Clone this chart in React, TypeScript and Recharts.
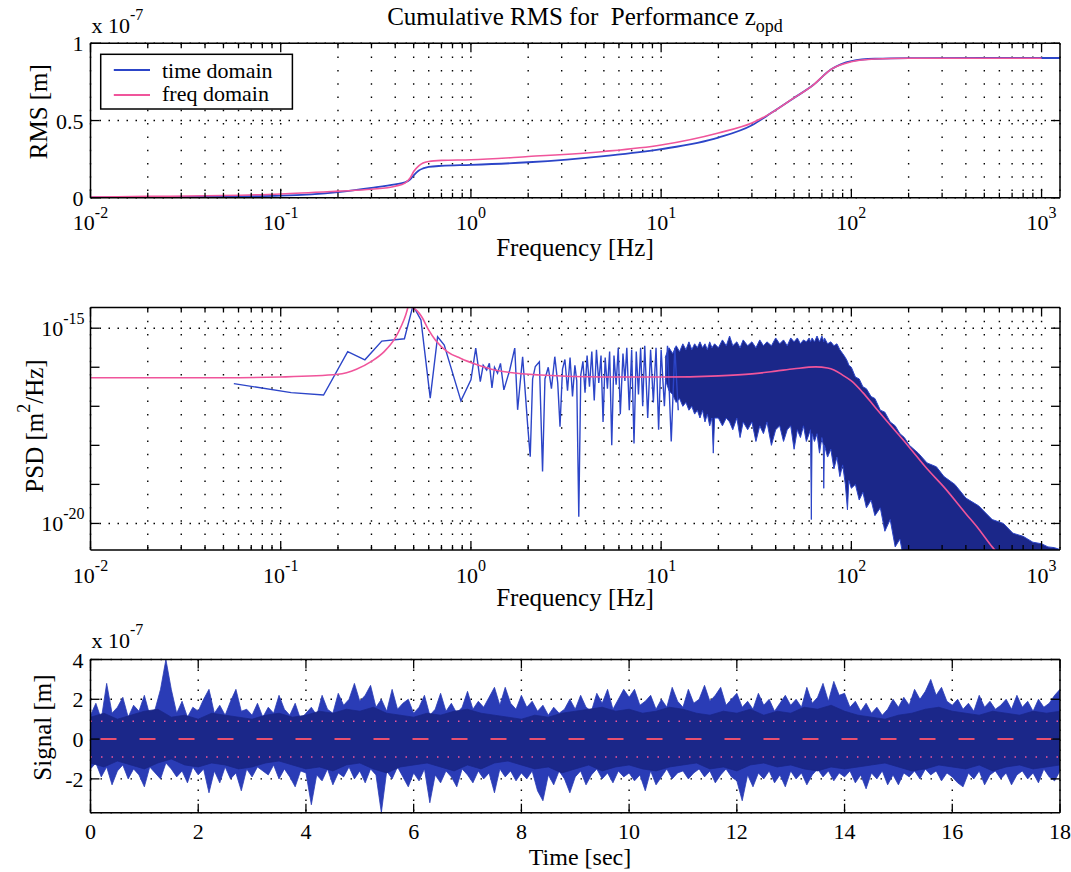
import {
  Area,
  CartesianGrid,
  ComposedChart,
  Line,
  XAxis,
  YAxis,
} from "recharts";

const FONT = "'Liberation Serif', 'Times New Roman', serif";
const BLUE = "#2c45c8";
const NAVY = "#1b2789";
const PINK = "#f0559b";
const W = 1071;
const PLOT_L = 90.5;
const PLOT_R = 1060;
const TM = 10; // tick margin, used to find the axis line inside custom ticks

// ---------- cumulative RMS (x 1e-7 m) ----------
const rmsFreq = [
  0.01, 0.02, 0.05, 0.1, 0.2, 0.3, 0.4, 0.45, 0.48, 0.5,
  0.53, 0.56, 0.6, 0.7, 1, 2, 5, 10, 20, 30,
  38, 49, 63, 78, 100, 133, 200, 500, 1000, 1250,
];
const rmsTimeDomain = [
  0.002, 0.004, 0.008, 0.014, 0.037, 0.064, 0.087, 0.1, 0.12, 0.145,
  0.175, 0.19, 0.2, 0.207, 0.213, 0.23, 0.27, 0.315, 0.39, 0.47,
  0.55, 0.64, 0.73, 0.83, 0.885, 0.9, 0.904, 0.905, 0.905, 0.905,
];
const rmsFreqDomain = [
  0.005, 0.009, 0.015, 0.025, 0.043, 0.055, 0.075, 0.095, 0.13, 0.17,
  0.205, 0.225, 0.235, 0.242, 0.246, 0.267, 0.3, 0.342, 0.42, 0.484,
  0.55, 0.64, 0.73, 0.83, 0.88, 0.898, 0.903, 0.903, 0.903, null,
];

// ---------- PSD, values are log10 of m^2/Hz ----------
const psdModelFreq = [
  0.01, 0.05, 0.1, 0.2, 0.25, 0.3, 0.35, 0.4, 0.43, 0.455,
  0.47, 0.48, 0.49, 0.52, 0.55, 0.6, 0.65, 0.75, 0.88, 1.1,
  1.33, 2.33, 5, 10, 20, 30, 40, 50, 65, 75,
  81, 90, 100, 115, 133, 150, 201, 250, 307, 400,
  467, 550, 650,
];
const psdModelExp = [
  -16.27, -16.27, -16.25, -16.18, -16.05, -15.85, -15.6, -15.25, -14.95, -14.65,
  -14.4, -14.2, -14.45, -14.55, -14.7, -15.05, -15.3, -15.6, -15.77, -15.95,
  -16.07, -16.2, -16.25, -16.25, -16.22, -16.17, -16.1, -16.04, -15.99, -16.02,
  -16.07, -16.2, -16.35, -16.65, -17.02, -17.32, -18.04, -18.6, -19.07, -19.75,
  -20.14, -20.6, -21.0,
];

const psdTimeFreq = [
  0.0567, 0.1135, 0.168, 0.225, 0.277, 0.34, 0.447, 0.496, 0.546, 0.611,
  0.668, 0.724, 0.886, 1.0, 1.06, 1.12, 1.16, 1.21, 1.25, 1.29,
  1.33, 1.38, 1.43, 1.49, 1.6, 1.7, 1.76, 1.87, 1.99, 2.05,
  2.11, 2.18, 2.29, 2.38, 2.45, 2.55, 2.65, 2.76, 2.86, 2.94,
  3.03, 3.12, 3.22, 3.32, 3.42, 3.52, 3.6, 3.69, 3.78, 3.88,
  3.98, 4.08, 4.2, 4.32, 4.45, 4.57, 4.7, 4.83, 4.95, 5.08,
  5.22, 5.36, 5.5, 5.65, 5.8, 5.95, 6.1, 6.3, 6.45, 6.6,
  6.8, 7.0, 7.2, 7.4, 7.6, 7.8, 8.0, 8.2, 8.5, 8.8,
  9.1, 9.4, 9.7, 10.0, 10.4, 10.8, 11.3, 11.8, 12.3,
];
const psdTimeExp = [
  -16.42, -16.65, -16.71, -15.6, -15.81, -15.33, -15.27, -14.42, -14.79, -16.79,
  -15.22, -15.43, -16.86, -16.32, -15.51, -16.37, -15.95, -16.07, -15.9, -16.53,
  -16.0, -16.15, -15.9, -16.58, -16.07, -15.51, -17.09, -15.73, -17.52, -18.29,
  -16.3, -15.98, -15.86, -18.67, -16.3, -16.0, -16.55, -15.73, -16.4, -17.52,
  -16.05, -15.8, -16.6, -15.75, -16.75, -15.95, -16.35, -19.83, -16.2, -15.85,
  -16.65, -15.7, -16.5, -15.6, -16.85, -15.55, -16.4, -15.7, -17.4, -15.75,
  -16.55, -15.6, -18.0, -15.7, -16.45, -15.5, -17.2, -15.65, -16.35, -15.5,
  -17.1, -15.55, -17.95, -15.6, -16.7, -15.5, -17.0, -15.45, -17.3, -15.55,
  -16.9, -15.5, -17.6, -15.55, -17.0, -15.45, -17.9, -15.5, -17.1,
];

// dense part of the time-domain PSD: upper and lower edge of the blue band
const psdBandFreq = [
  10.5, 11, 11.5, 12, 12.5, 13, 13.5, 14, 14.5, 15,
  15.5, 16, 16.5, 17, 17.5, 18, 18.5, 18.8, 19.1, 20,
  21, 22, 22.9, 23.8, 25, 26, 27, 28.5, 30, 31.5,
  33, 34.5, 36, 38, 40, 42, 44, 46, 48, 50,
  52, 54, 56, 58, 60, 61, 61.6, 62.2, 64, 66,
  68, 70, 71.2, 71.6, 72.2, 75, 78, 81, 84, 87,
  90, 93, 95.4, 97, 100, 105, 110, 115, 120, 127,
  133, 142, 150, 160, 170, 180, 190, 202, 225, 250,
  280, 307, 350, 400, 467, 550, 630, 707, 800, 900,
  1000, 1080, 1170, 1250,
];
const psdBandHiExp = [
  -15.75, -15.5, -15.65, -15.45, -15.6, -15.4, -15.55, -15.35, -15.55, -15.4,
  -15.5, -15.35, -15.5, -15.4, -15.55, -15.35, -15.5, -15.45, -15.4, -15.5,
  -15.3, -15.45, -15.2, -15.45, -15.35, -15.5, -15.3, -15.45, -15.35, -15.5,
  -15.3, -15.45, -15.35, -15.45, -15.25, -15.4, -15.3, -15.45, -15.25, -15.35,
  -15.25, -15.4, -15.3, -15.35, -15.25, -15.35, -15.3, -15.25, -15.35, -15.2,
  -15.35, -15.2, -15.3, -15.35, -15.25, -15.4, -15.35, -15.45, -15.4, -15.55,
  -15.65, -15.75, -15.85, -15.95, -16.0, -16.25, -16.3, -16.5, -16.55, -16.75,
  -16.8, -17.1, -17.15, -17.4, -17.5, -17.7, -17.8, -18.0, -18.2, -18.45,
  -18.55, -18.8, -19.0, -19.35, -19.55, -19.9, -20.0, -20.25, -20.33, -20.48,
  -20.52, -20.6, -20.62, -20.67,
];
const psdBandLoExp = [
  -16.3, -16.6, -16.7, -16.9, -16.8, -17.0, -16.9, -17.1, -17.0, -17.2,
  -17.1, -17.3, -17.1, -17.4, -17.2, -17.5, -17.3, -18.2, -17.3, -17.3,
  -17.5, -17.3, -17.4, -17.6, -17.3, -17.8, -17.4, -17.6, -17.4, -17.9,
  -17.5, -17.7, -17.4, -18.0, -17.6, -17.5, -17.9, -17.6, -17.5, -18.1,
  -17.6, -17.8, -17.5, -17.9, -17.7, -17.6, -19.9, -17.7, -17.9, -17.7,
  -18.2, -17.8, -18.0, -19.1, -18.0, -18.3, -18.1, -18.6, -18.3, -18.8,
  -18.5, -19.0, -19.65, -18.9, -19.1, -19.0, -19.4, -19.2, -19.6, -19.4,
  -19.8, -19.6, -20.2, -19.9, -20.6, -20.4, -21, -21, -21, -21,
  -21, -21, -21, -21, -21, -21, -21, -21, -21, -21,
  -21, -21, -21, -21,
];

// ---------- time signal (x 1e-7 m), envelope sampled every 0.1 s ----------
const SIGNAL_DT = 0.1;
const signalHi = [
  1.2, 1.8, 1.0, 2.8, 1.3, 1.6, 2.1, 1.1, 1.7, 1.4,
  2.2, 1.2, 1.5, 2.5, 4.0, 2.5, 1.3, 1.9, 1.1, 1.6,
  1.4, 2.0, 2.5, 1.3, 1.7, 1.2, 1.9, 2.5, 1.4, 1.5,
  1.2, 1.8, 1.1, 1.6, 1.3, 2.2, 1.5, 1.2, 1.8, 1.0,
  1.3, 1.6, 1.2, 2.2, 1.5, 1.3, 2.3, 1.7, 2.0, 2.8,
  1.9, 2.2, 2.7, 1.6, 2.0, 1.4, 2.5, 1.5, 1.8, 2.0,
  1.3, 1.6, 2.2, 1.2, 1.5, 2.3, 1.4, 1.8, 1.3, 1.6,
  2.4, 1.5, 1.9, 1.6, 2.1, 2.6, 1.7, 2.6, 1.8, 1.5,
  2.2, 1.6, 1.9, 1.4, 1.7, 1.2, 1.6, 1.3, 1.5, 2.0,
  1.5, 2.2, 1.6, 1.4, 2.3, 1.8, 2.5, 1.5, 2.0, 2.5,
  2.1, 2.5, 1.7, 1.9, 2.2, 1.5, 2.0, 1.6, 2.6, 1.9,
  1.6, 2.5, 1.8, 2.0, 2.7, 1.9, 2.2, 2.6, 1.7, 2.0,
  2.3, 1.6, 1.9, 1.5, 2.3, 1.7, 2.0, 1.4, 1.8, 2.2,
  1.7, 2.0, 1.6, 2.6, 1.8, 2.1, 2.8, 1.9, 2.9, 2.2,
  2.3, 1.6, 1.9, 1.4, 1.8, 1.3, 1.6, 1.2, 1.5, 2.0,
  1.6, 2.1, 1.7, 2.5, 2.0, 2.4, 3.0, 2.2, 2.6, 1.9,
  1.7, 2.0, 1.5, 1.8, 1.4, 2.2, 1.6, 1.9, 1.5, 1.7,
  2.0, 1.5, 2.2, 1.6, 1.9, 1.4, 2.0, 1.6, 1.8, 2.2,
  2.5,
];
const signalLo = [
  -1.5, -1.2, -1.9, -1.4, -2.3, -1.6, -1.3, -2.0, -1.5, -1.8,
  -2.4, -1.4, -1.7, -2.0, -1.2, -1.5, -1.9, -1.6, -2.2, -1.4,
  -1.8, -1.5, -2.7, -1.6, -2.2, -1.4, -2.0, -1.7, -2.6, -1.5,
  -1.9, -1.4, -1.6, -1.8, -1.3, -2.0, -1.5, -1.9, -2.4, -1.6,
  -1.7, -3.3, -1.8, -2.1, -1.5, -2.3, -1.7, -1.9, -1.4, -2.0,
  -1.6, -2.2, -1.5, -1.8, -3.7, -1.6, -2.0, -1.4, -1.9, -2.4,
  -1.7, -2.1, -1.5, -3.2, -1.8, -2.2, -1.6, -1.9, -2.4, -1.5,
  -1.8, -2.2, -1.6, -2.0, -1.7, -2.7, -1.5, -1.9, -1.6, -2.1,
  -1.7, -2.0, -1.6, -2.6, -3.1, -1.8, -2.3, -1.6, -2.0, -2.7,
  -1.9, -1.6, -2.3, -1.8, -1.5, -2.0, -1.7, -2.2, -1.6, -1.9,
  -1.7, -2.1, -1.8, -2.6, -1.6, -2.3, -1.9, -1.5, -2.0, -1.7,
  -1.6, -2.0, -1.7, -1.5, -1.9, -1.6, -2.2, -1.8, -1.5, -1.9,
  -2.1, -3.1, -1.8, -2.4, -1.7, -2.0, -1.6, -2.2, -1.8, -2.4,
  -1.6, -2.0, -1.7, -2.3, -1.8, -1.5, -1.9, -1.6, -2.1, -1.7,
  -1.9, -1.6, -2.2, -1.8, -2.5, -1.7, -2.0, -1.6, -2.3, -1.8,
  -2.3, -1.7, -1.9, -1.6, -2.0, -1.5, -1.8, -1.6, -2.1, -1.7,
  -1.9, -2.2, -2.4, -1.7, -2.0, -1.6, -2.3, -1.8, -1.6, -2.0,
  -1.7, -2.3, -1.8, -1.6, -2.0, -1.7, -2.2, -1.5, -1.9, -2.1,
  -1.6,
];
// dense core of the trace, every 0.25 s
const CORE_DT = 0.25;
const signalCoreHi = [
  1.1, 1.3, 1.0, 1.2, 1.4, 1.5, 1.1, 1.2, 1.0, 1.3, 1.2, 1.1, 1.0, 1.2, 1.3, 1.1,
  1.2, 1.4, 1.3, 1.5, 1.4, 1.6, 1.3, 1.2, 1.1, 1.3, 1.2, 1.4, 1.5, 1.3, 1.2, 1.1,
  1.0, 1.2, 1.1, 1.3, 1.4, 1.5, 1.6, 1.4, 1.5, 1.3, 1.4, 1.6, 1.5, 1.3, 1.2, 1.4,
  1.3, 1.5, 1.2, 1.4, 1.3, 1.6, 1.5, 1.7, 1.4, 1.2, 1.1, 1.0, 1.2, 1.3, 1.5, 1.6,
  1.4, 1.3, 1.2, 1.4, 1.3, 1.2, 1.4, 1.3, 1.4,
];
const signalCoreLo = [
  -1.2, -1.4, -1.1, -1.3, -1.5, -1.2, -1.0, -1.3, -1.4, -1.2, -1.3, -1.5, -1.4, -1.2, -1.1, -1.3,
  -1.5, -1.4, -1.6, -1.3, -1.2, -1.5, -1.7, -1.4, -1.3, -1.2, -1.4, -1.6, -1.3, -1.5, -1.2, -1.1,
  -1.3, -1.5, -1.4, -1.7, -1.5, -1.3, -1.6, -1.4, -1.3, -1.5, -1.6, -1.4, -1.3, -1.2, -1.5, -1.4,
  -1.6, -1.3, -1.2, -1.4, -1.3, -1.5, -1.6, -1.4, -1.5, -1.4, -1.3, -1.2, -1.4, -1.6, -1.5, -1.3,
  -1.4, -1.5, -1.3, -1.6, -1.4, -1.3, -1.5, -1.4, -1.3,
];
const signalMeanT = [0, 18];
const signalMean = [0, 0];
const signalRms = 0.9;

// ---------- axes ----------
const FREQ_DOMAIN: [number, number] = [0.01, 1250];
const freqDecades = [-2, -1, 0, 1, 2, 3];
const freqTicks: number[] = [];
freqDecades.forEach((d) => {
  for (let m = 1; m <= 9; m++) {
    const v = Number((m * Math.pow(10, d)).toPrecision(4));
    if (v <= FREQ_DOMAIN[1]) freqTicks.push(v);
  }
});
const psdDecades = [-20, -19, -18, -17, -16, -15];
const psdTicks = psdDecades.map((e) => Math.pow(10, e));
const psdLabeled = [-20, -15];
const PSD_DOMAIN: [number, number] = [Math.pow(10, -20.68), Math.pow(10, -14.47)];
const timeTicks = [0, 2, 4, 6, 8, 10, 12, 14, 16, 18];
const signalTicks = [-2, 0, 2, 4];

const isDecade = (v: number) => {
  const e = Math.log10(v);
  return Math.abs(e - Math.round(e)) < 1e-6;
};

const axisLine = { stroke: "#000", strokeWidth: 1.5 };
const tl = { stroke: "#000", strokeWidth: 1.3 };

const Pow10 = ({ x, y, exp, anchor }: { x: number; y: number; exp: number; anchor: "middle" | "end" }) => (
  <text x={x} y={y} textAnchor={anchor} fontFamily={FONT} fontSize={22} fill="#000">
    10<tspan dy={-12} fontSize={16}>{exp}</tspan>
  </text>
);

const makeBottomTick = (log: boolean, labelDy: number) => (p: any) => {
  const v = p.payload.value as number;
  const major = log ? isDecade(v) : true;
  const ay = p.y - TM;
  return (
    <g>
      <line x1={p.x} x2={p.x} y1={ay} y2={ay - (major ? 9 : 5)} {...tl} />
      {major && log && <Pow10 x={p.x} y={ay + labelDy} exp={Math.round(Math.log10(v))} anchor="middle" />}
      {!log && (
        <text x={p.x} y={ay + labelDy} textAnchor="middle" fontFamily={FONT} fontSize={22} fill="#000">
          {v}
        </text>
      )}
    </g>
  );
};

const makeTopTick = (log: boolean) => (p: any) => {
  const v = p.payload.value as number;
  const major = log ? isDecade(v) : true;
  const ay = p.y + TM;
  return <line x1={p.x} x2={p.x} y1={ay} y2={ay + (major ? 9 : 5)} {...tl} />;
};

const makeLeftTick = (fmt: (v: number) => string) => (p: any) => {
  const ax = p.x + TM;
  return (
    <g>
      <line x1={ax} x2={ax + 9} y1={p.y} y2={p.y} {...tl} />
      <text x={ax - 7} y={p.y + 8} textAnchor="end" fontFamily={FONT} fontSize={22} fill="#000">
        {fmt(p.payload.value)}
      </text>
    </g>
  );
};

const leftLogTick = (p: any) => {
  const ax = p.x + TM;
  const e = Math.round(Math.log10(p.payload.value));
  return (
    <g>
      <line x1={ax} x2={ax + 9} y1={p.y} y2={p.y} {...tl} />
      {psdLabeled.includes(e) && <Pow10 x={ax - 6} y={p.y + 8} exp={e} anchor="end" />}
    </g>
  );
};

const rightTick = (p: any) => {
  const ax = p.x - TM;
  return <line x1={ax} x2={ax - 9} y1={p.y} y2={p.y} {...tl} />;
};

const gridV = { stroke: "#000", strokeWidth: 1.4, strokeDasharray: "1.5 11.8" };
const gridH = { stroke: "#000", strokeWidth: 1.4, strokeDasharray: "1.5 7.5" };

// axes are 1px thick (a 0px axis is not drawn), so margins are reduced by 1
const commonX = { type: "number" as const, allowDataOverflow: true, interval: 0 as const, height: 1, tickSize: 0, tickMargin: TM, tickLine: false, axisLine };
const commonY = { type: "number" as const, allowDataOverflow: true, interval: 0 as const, width: 1, tickSize: 0, tickMargin: TM, tickLine: false, axisLine };
const panelMargin = (H: number, top: number, bottom: number) => ({
  top: top - 1,
  bottom: H - bottom - 1,
  left: PLOT_L - 1,
  right: W - PLOT_R - 1,
});

function RmsPanel() {
  const rows = rmsFreq.map((f, i) => ({ f, td: rmsTimeDomain[i], fd: rmsFreqDomain[i] }));
  const H = 270;
  return (
    <ComposedChart width={W} height={H} data={rows} margin={panelMargin(H, 43.3, 197.8)}>
      <CartesianGrid horizontal={false} {...gridV} />
      <CartesianGrid vertical={false} {...gridH} />
      <XAxis {...commonX} dataKey="f" scale="log" domain={FREQ_DOMAIN} ticks={freqTicks} tick={makeBottomTick(true, 32)} />
      <XAxis {...commonX} xAxisId="top" orientation="top" dataKey="f" scale="log" domain={FREQ_DOMAIN} ticks={freqTicks} tick={makeTopTick(true)} />
      <YAxis {...commonY} domain={[0, 1]} ticks={[0, 0.5, 1]} tick={makeLeftTick((v) => String(v))} />
      <YAxis {...commonY} yAxisId="right" orientation="right" domain={[0, 1]} ticks={[0, 0.5, 1]} tick={rightTick} />
      <Line dataKey="td" type="monotone" stroke={BLUE} strokeWidth={1.8} dot={false} activeDot={false} isAnimationActive={false} />
      <Line dataKey="fd" type="monotone" stroke={PINK} strokeWidth={1.6} dot={false} activeDot={false} isAnimationActive={false} />
    </ComposedChart>
  );
}

function PsdPanel() {
  const band = psdBandFreq.map((f, i) => ({ f, band: [Math.pow(10, psdBandLoExp[i]), Math.pow(10, psdBandHiExp[i])] }));
  const timeLine = psdTimeFreq.map((f, i) => ({ f, v: Math.pow(10, psdTimeExp[i]) }));
  const model = psdModelFreq.map((f, i) => ({ f, v: Math.pow(10, psdModelExp[i]) }));
  const H = 345;
  return (
    <ComposedChart width={W} height={H} margin={panelMargin(H, 37.5, 280)}>
      <CartesianGrid horizontal={false} {...gridV} />
      <CartesianGrid vertical={false} horizontalValues={[1e-20, 1e-15]} {...gridH} />
      <XAxis {...commonX} dataKey="f" scale="log" domain={FREQ_DOMAIN} ticks={freqTicks} tick={makeBottomTick(true, 33)} />
      <XAxis {...commonX} xAxisId="top" orientation="top" dataKey="f" scale="log" domain={FREQ_DOMAIN} ticks={freqTicks} tick={makeTopTick(true)} />
      <YAxis {...commonY} scale="log" domain={PSD_DOMAIN} ticks={psdTicks} tick={leftLogTick} />
      <YAxis {...commonY} yAxisId="right" orientation="right" scale="log" domain={PSD_DOMAIN} ticks={psdTicks} tick={rightTick} />
      <Area data={band} dataKey="band" type="linear" stroke={BLUE} strokeWidth={1} fill={NAVY} fillOpacity={1} dot={false} activeDot={false} isAnimationActive={false} />
      <Line data={timeLine} dataKey="v" type="linear" stroke={BLUE} strokeWidth={1.4} dot={false} activeDot={false} isAnimationActive={false} />
      <Line data={model} dataKey="v" type="monotone" stroke={PINK} strokeWidth={1.6} dot={false} activeDot={false} isAnimationActive={false} />
    </ComposedChart>
  );
}

function SignalPanel() {
  const outer = signalHi.map((hi, i) => ({ t: Number((i * SIGNAL_DT).toFixed(2)), band: [signalLo[i], hi] }));
  const core = signalCoreHi.map((hi, i) => ({ t: i * CORE_DT, band: [signalCoreLo[i], hi] }));
  const mean = signalMeanT.map((t, i) => ({ t, v: signalMean[i] }));
  const rmsUp = signalMeanT.map((t) => ({ t, v: signalRms }));
  const rmsDown = signalMeanT.map((t) => ({ t, v: -signalRms }));
  const H = 257;
  return (
    <ComposedChart width={W} height={H} margin={panelMargin(H, 44.5, 197.7)}>
      <CartesianGrid {...gridH} strokeDasharray="1.5 8.5" />
      <XAxis {...commonX} dataKey="t" domain={[0, 18]} ticks={timeTicks} tick={makeBottomTick(false, 26)} />
      <XAxis {...commonX} xAxisId="top" orientation="top" dataKey="t" domain={[0, 18]} ticks={timeTicks} tick={makeTopTick(false)} />
      <YAxis {...commonY} domain={[-3.7, 4]} ticks={signalTicks} tick={makeLeftTick((v) => String(v))} />
      <YAxis {...commonY} yAxisId="right" orientation="right" domain={[-3.7, 4]} ticks={signalTicks} tick={rightTick} />
      <Area data={outer} dataKey="band" type="linear" stroke="#2a3cb6" strokeWidth={0.8} fill="#2a3cb6" fillOpacity={1} dot={false} activeDot={false} isAnimationActive={false} />
      <Area data={core} dataKey="band" type="linear" stroke={NAVY} strokeWidth={0.8} fill={NAVY} fillOpacity={1} dot={false} activeDot={false} isAnimationActive={false} />
      <Line data={rmsUp} dataKey="v" stroke={PINK} strokeWidth={1.4} strokeDasharray="1.5 9" dot={false} activeDot={false} isAnimationActive={false} />
      <Line data={rmsDown} dataKey="v" stroke={PINK} strokeWidth={1.4} strokeDasharray="1.5 9" dot={false} activeDot={false} isAnimationActive={false} />
      <Line data={mean} dataKey="v" stroke="#e8506e" strokeWidth={2} strokeDasharray="16 23" strokeDashoffset={-10} dot={false} activeDot={false} isAnimationActive={false} />
    </ComposedChart>
  );
}

const label = { fontFamily: FONT, fontSize: 25, fill: "#000" };

function Overlay() {
  return (
    <svg width={W} height={872} style={{ position: "absolute", left: 0, top: 0, pointerEvents: "none" }}>
      <text x={585} y={25} textAnchor="middle" {...label}>
        {"Cumulative RMS for\u00a0 Performance z"}
        <tspan dy={7} fontSize={18}>opd</tspan>
      </text>
      <text x={91.5} y={33.3} fontFamily={FONT} fontSize={22}>
        x 10<tspan dy={-13} fontSize={16}>-7</tspan>
      </text>
      <text x={91.5} y={648} fontFamily={FONT} fontSize={22}>
        x 10<tspan dy={-13} fontSize={16}>-7</tspan>
      </text>
      <text x={575} y={256} textAnchor="middle" {...label}>Frequency [Hz]</text>
      <text x={575} y={606} textAnchor="middle" {...label}>Frequency [Hz]</text>
      <text x={580} y={865} textAnchor="middle" fontFamily={FONT} fontSize={24} fill="#000">Time [sec]</text>
      <text transform="translate(38,111.7) rotate(-90)" textAnchor="middle" dominantBaseline="central" {...label}>RMS [m]</text>
      <text transform="translate(34,426) rotate(-90)" textAnchor="middle" dominantBaseline="central" {...label}>
        PSD [m<tspan dy={-10} fontSize={18}>2</tspan><tspan dy={10}>/Hz]</tspan>
      </text>
      <text transform="translate(42,727.5) rotate(-90)" textAnchor="middle" dominantBaseline="central" {...label}>Signal [m]</text>
      {/* legend of the top panel */}
      <rect x={100.7} y={54.3} width={191.7} height={54.7} fill="#fff" stroke="#000" strokeWidth={1.5} />
      <line x1={113.8} x2={150} y1={70} y2={70} stroke={BLUE} strokeWidth={1.8} />
      <line x1={113.8} x2={150} y1={95} y2={95} stroke={PINK} strokeWidth={1.8} />
      <text x={162} y={78} fontFamily={FONT} fontSize={22}>time domain</text>
      <text x={162} y={101} fontFamily={FONT} fontSize={22}>freq domain</text>
    </svg>
  );
}

export default function App() {
  return (
    <div style={{ position: "absolute", left: 0, top: 0, width: W, height: 872, background: "#fff", fontFamily: FONT }}>
      <div style={{ position: "absolute", left: 0, top: 0 }}>
        <RmsPanel />
      </div>
      <div style={{ position: "absolute", left: 0, top: 270 }}>
        <PsdPanel />
      </div>
      <div style={{ position: "absolute", left: 0, top: 615 }}>
        <SignalPanel />
      </div>
      <Overlay />
    </div>
  );
}
